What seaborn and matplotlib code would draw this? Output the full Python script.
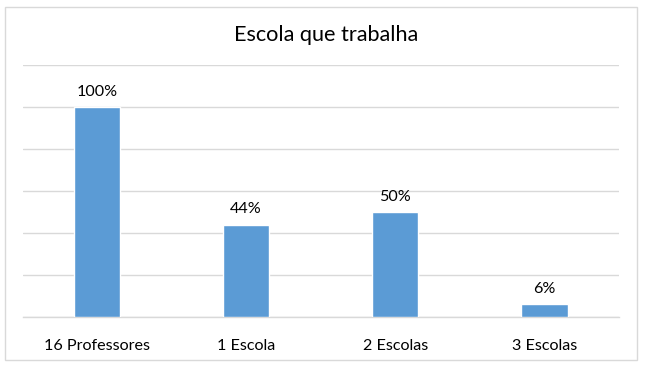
import matplotlib
matplotlib.use("Agg")
import matplotlib.pyplot as plt
import matplotlib.patches as mpatches
import seaborn as sns
import pandas as pd

categories = ["16 Professores", "1 Escola", "2 Escolas", "3 Escolas"]
values = [1.00, 0.44, 0.50, 0.06]
value_labels = ["100%", "44%", "50%", "6%"]
title = "Escola que trabalha"

sns.set_theme(style="white")
plt.rcParams['font.family'] = ['Lato', 'DejaVu Sans']

W, H = 652, 367
fig = plt.figure(figsize=(W / 100, H / 100), dpi=100)
ax = fig.add_axes([22.5 / W, (H - 317) / H, (619 - 22.5) / W, (317 - 65) / H])

df = pd.DataFrame({"cat": categories, "val": values})
sns.barplot(data=df, x="cat", y="val", color="#5B9BD5", width=0.31, ax=ax,
            saturation=1, zorder=3)

ax.set_ylim(0, 1.2)
ax.set_yticks([0, 0.2, 0.4, 0.6, 0.8, 1.0, 1.2])
ax.yaxis.grid(True, color="#D9D9D9", linewidth=1)
ax.set_axisbelow(True)
ax.tick_params(axis="y", left=False, labelleft=False)
ax.tick_params(axis="x", bottom=False, labelsize=11.6, pad=10, colors="#000000")
for s in ["top", "right", "left"]:
    ax.spines[s].set_visible(False)
ax.spines["bottom"].set_color("#D9D9D9")
ax.spines["bottom"].set_linewidth(1)
ax.set_xlabel("")
ax.set_ylabel("")

for i, (v, lab) in enumerate(zip(values, value_labels)):
    ax.annotate(lab, xy=(i, v), xytext=(0, 6), textcoords="offset points",
                ha="center", va="bottom", fontsize=11.6, color="#000000")

fig.text(0.5, 1 - 35 / H, title, ha="center", va="center", fontsize=15.6, color="#000000")

fig.patches.append(mpatches.Rectangle((5 / W, 1 - 360 / H), (637 - 5) / W, (360 - 7) / H,
                                      transform=fig.transFigure, fill=False,
                                      edgecolor="#D9D9D9", linewidth=1))

fig.savefig("out.png", dpi=100, facecolor="white")
